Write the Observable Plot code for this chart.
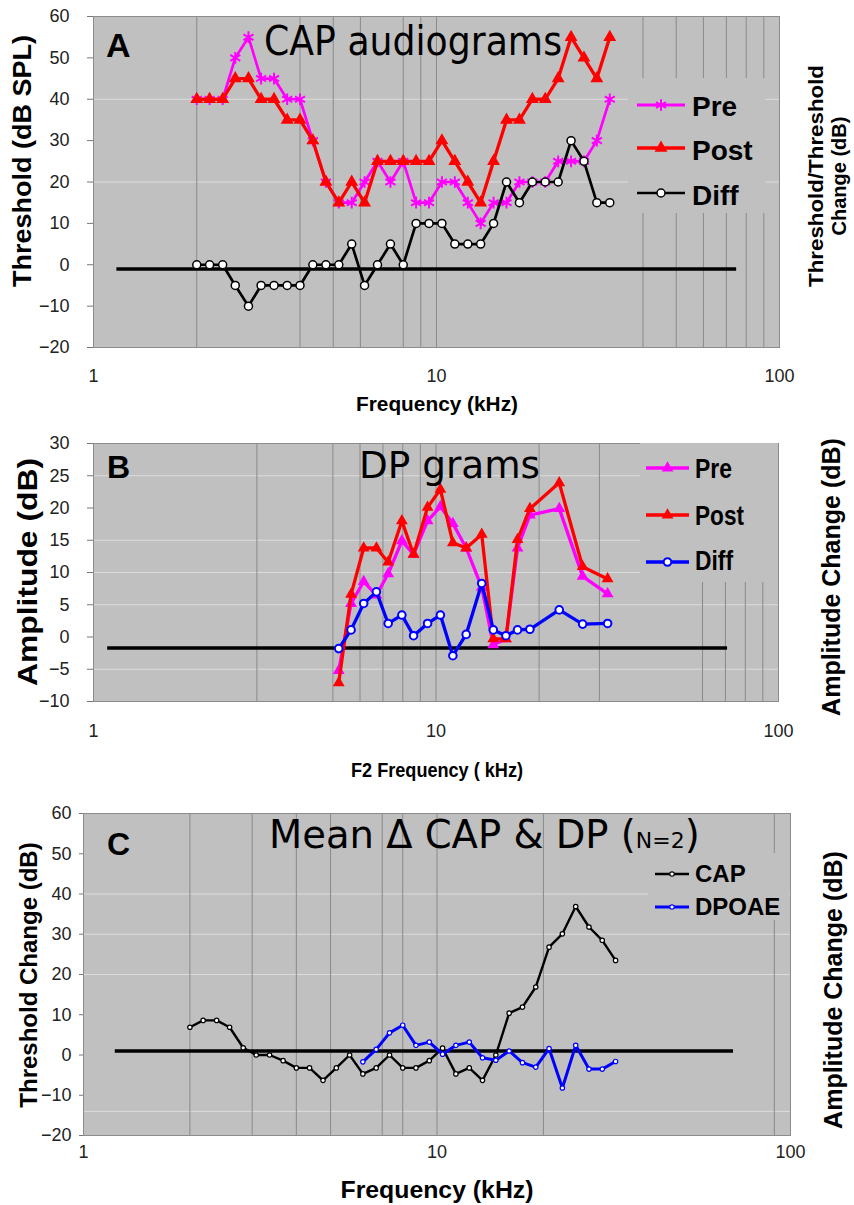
<!DOCTYPE html>
<html><head><meta charset="utf-8">
<script src="https://cdn.jsdelivr.net/npm/d3@7"></script>
<script src="https://cdn.jsdelivr.net/npm/@observablehq/plot@0.6"></script>
<style>
html,body{margin:0;padding:0;background:#fff;}
#root{position:relative;width:854px;height:1205px;overflow:hidden;background:#fff;}
#root > svg{position:absolute;left:0;}
</style></head><body><div id="root"></div>
<script>
// ---------- DATA ----------
// Panel A: CAP audiograms (1/8-octave frequencies, kHz)
const capFreq = [2, 2.18, 2.38, 2.59, 2.83, 3.08, 3.36, 3.67, 4, 4.36, 4.76, 5.19, 5.66, 6.17, 6.73, 7.34, 8, 8.72, 9.51, 10.37, 11.31, 12.34, 13.45, 14.67, 16, 17.45, 19.03, 20.75, 22.63, 24.68, 26.91, 29.34, 32];
const capPre  = [40, 40, 40, 50, 55, 45, 45, 40, 40, 30, 20, 15, 15, 20, 25, 20, 25, 15, 15, 20, 20, 15, 10, 15, 15, 20, 20, 20, 25, 25, 25, 30, 40];
const capPost = [40, 40, 40, 45, 45, 40, 40, 35, 35, 30, 20, 15, 20, 15, 25, 25, 25, 25, 25, 30, 25, 20, 15, 25, 35, 35, 40, 40, 45, 55, 50, 45, 55];
const capDiff = [0, 0, 0, -5, -10, -5, -5, -5, -5, 0, 0, 0, 5, -5, 0, 5, 0, 10, 10, 10, 5, 5, 5, 10, 20, 15, 20, 20, 20, 30, 25, 15, 15];

// Panel B: DP grams (F2 frequency, kHz)
const dpFreq = [5.2, 5.65, 6.15, 6.7, 7.25, 7.95, 8.6, 9.45, 10.3, 11.2, 12.25, 13.6, 14.7, 16, 17.3, 18.8, 22.9, 26.8, 31.7];
const dpPre  = [-5.2, 5.2, 8.6, 6.5, 9.8, 14.9, 12.8, 18, 20.2, 17.6, 13.8, 7.7, -1.2, -0.3, 13.8, 18.9, 19.9, 9.4, 6.7];
const dpPost = [-7.1, 6.6, 13.8, 13.8, 11.6, 18, 12.8, 20.1, 22.9, 14.6, 13.8, 15.9, -0.3, -0.3, 15.1, 19.9, 23.9, 10.9, 9];
const dpDiff = [-1.8, 1.1, 5.2, 7, 2.1, 3.4, 0.2, 2.1, 3.4, -2.9, 0.4, 8.3, 1.1, 0.2, 1.1, 1.2, 4.2, 2, 2.1];

// Panel C: mean change (N=2)
const meanCapFreq = capFreq;
const meanCap = [6.9, 8.6, 8.6, 6.9, 1.8, 0, 0, -1.4, -3.2, -3.2, -6.3, -3.2, 0, -4.7, -3.2, 0, -3.2, -3.2, -1.4, 1.7, -4.7, -3.2, -6.3, 0, 10.4, 11.9, 16.9, 26.8, 30.1, 36.9, 31.8, 28.5, 23.5];
const meanDpFreq = [6.17, 6.73, 7.34, 8, 8.72, 9.51, 10.37, 11.31, 12.34, 13.45, 14.67, 16, 17.45, 19.03, 20.75, 22.63, 24.68, 26.91, 29.34, 32];
const meanDp = [-1.7, 1.4, 5.5, 7.4, 2.4, 3.2, 0.2, 2.4, 3.2, -0.7, -1.3, 1, -1.9, -3, 1.6, -8.2, 2.4, -3.5, -3.5, -1.6];

// zero/reference lines: [from kHz, to kHz, level dB]
const baseA = [1.17, 75, -1];
const baseB = [1.1, 71, -1.7];
const baseC = [1.23, 69, 1];

// ticks and grid
const tickX = [1, 10, 100];
const tickYA = [-20, -10, 0, 10, 20, 30, 40, 50, 60];
const tickYB = [-10, -5, 0, 5, 10, 15, 20, 25, 30];
const tickYC = [-20, -10, 0, 10, 20, 30, 40, 50, 60];
const gridXA = [2, 4, 5, 6, 8, 9, 10, 40, 50, 60, 70, 80, 90];
const gridXB = [3, 5, 6, 7, 8, 9, 10, 20, 30, 60, 70, 80, 90];
const gridXC = [2, 3, 4, 5, 7, 8, 10, 20, 90];
const gridYA = [40, 20];
const gridYB = [25, 15, 10, 5, -5];
const gridYC = [40, 30, 20, -14];

// ---------- DRAW ----------
const FONT = "'Liberation Sans', Arial, Helvetica, sans-serif";
const root = document.getElementById("root");
const rows = (xs, ys) => xs.map((f, i) => ({f, v: ys[i]}));

function panel(o) {
  const marks = [
    Plot.frame({fill: "#c0c0c0", stroke: null}),
    Plot.ruleY(o.gridY, {stroke: "#dcdcdc", strokeWidth: 1}),
    Plot.ruleX(o.gridX, {stroke: "#8a8a8a", strokeWidth: 1}),
    Plot.frame({stroke: "#8c8c8c", strokeWidth: 1}),
    Plot.ruleY([{x1: o.base[0], x2: o.base[1], y: o.base[2]}], {x1: "x1", x2: "x2", y: "y", stroke: "#000", strokeWidth: 3.5}),
    ...o.series,
    Plot.axisY({ticks: o.yTicks, tickSize: o.tickSize, tickPadding: o.tickPad, fontSize: 18, label: null, stroke: "#777"}),
    Plot.axisX({ticks: tickX, tickSize: 0, tickPadding: o.xPad, tickFormat: d => String(d), fontSize: 18, label: null})
  ];
  const svg = Plot.plot({
    width: 854, height: o.height,
    marginTop: o.mt, marginBottom: o.mb, marginLeft: o.ml, marginRight: o.mr,
    x: {type: "log", domain: [1, 100]},
    y: {domain: o.yDomain},
    style: {fontFamily: FONT, fontSize: "18px", color: "#222", background: "transparent", overflow: "visible"},
    marks
  });
  svg.style.top = o.top + "px";
  root.appendChild(svg);
}

// Panel A
panel({
  top: 0, height: 420, mt: 16, mb: 73, ml: 93, mr: 75,
  yDomain: [-20, 60], yTicks: tickYA, gridX: gridXA, gridY: gridYA, base: baseA,
  tickSize: 6, tickPad: 18, xPad: 22,
  series: [
    Plot.line(rows(capFreq, capPre), {x: "f", y: "v", stroke: "#ff00ff", strokeWidth: 2.7}),
    Plot.dot(rows(capFreq, capPre), {x: "f", y: "v", symbol: "asterisk", stroke: "#ff00ff", strokeWidth: 2, r: 5.5}),
    Plot.line(rows(capFreq, capPost), {x: "f", y: "v", stroke: "#ff0000", strokeWidth: 3.3}),
    Plot.dot(rows(capFreq, capPost), {x: "f", y: "v", symbol: "triangle", fill: "#ff0000", r: 4.8}),
    Plot.line(rows(capFreq, capDiff), {x: "f", y: "v", stroke: "#000", strokeWidth: 2.7}),
    Plot.dot(rows(capFreq, capDiff), {x: "f", y: "v", fill: "#fff", stroke: "#000", strokeWidth: 1.5, r: 4})
  ]
});

// Panel B
panel({
  top: 420, height: 360, mt: 23, mb: 79, ml: 93, mr: 76,
  yDomain: [-10, 30], yTicks: tickYB, gridX: gridXB, gridY: gridYB, base: baseB,
  tickSize: 6, tickPad: 18, xPad: 23,
  series: [
    Plot.line(rows(dpFreq, dpPre), {x: "f", y: "v", stroke: "#ff00ff", strokeWidth: 3.3}),
    Plot.dot(rows(dpFreq, dpPre), {x: "f", y: "v", symbol: "triangle", fill: "#ff00ff", r: 4.4}),
    Plot.line(rows(dpFreq, dpPost), {x: "f", y: "v", stroke: "#ff0000", strokeWidth: 3.3}),
    Plot.dot(rows(dpFreq, dpPost), {x: "f", y: "v", symbol: "triangle", fill: "#ff0000", r: 4.4}),
    Plot.line(rows(dpFreq, dpDiff), {x: "f", y: "v", stroke: "#0000ff", strokeWidth: 3.3}),
    Plot.dot(rows(dpFreq, dpDiff), {x: "f", y: "v", fill: "#fff", stroke: "#0000ff", strokeWidth: 2, r: 3.8})
  ]
});

// Panel C
panel({
  top: 790, height: 415, mt: 23, mb: 70, ml: 83, mr: 64,
  yDomain: [-20, 60], yTicks: tickYC, gridX: gridXC, gridY: gridYC, base: baseC,
  tickSize: 4, tickPad: 8, xPad: 10,
  series: [
    Plot.line(rows(meanCapFreq, meanCap), {x: "f", y: "v", stroke: "#000", strokeWidth: 2.4}),
    Plot.dot(rows(meanCapFreq, meanCap), {x: "f", y: "v", fill: "#fff", stroke: "#000", strokeWidth: 1.2, r: 2.2}),
    Plot.line(rows(meanDpFreq, meanDp), {x: "f", y: "v", stroke: "#0000ff", strokeWidth: 3}),
    Plot.dot(rows(meanDpFreq, meanDp), {x: "f", y: "v", fill: "#fff", stroke: "#0000ff", strokeWidth: 1.2, r: 2.2})
  ]
});

// ---------- TEXT + LEGEND OVERLAY ----------
const ov = d3.select(root).append("svg")
  .attr("width", 854).attr("height", 1205)
  .style("top", "0px").style("pointer-events", "none");

function txt(s, x, y, o = {}) {
  const g = ov.append("g").attr("transform", `translate(${x},${y})` + (o.rot ? ` rotate(${o.rot})` : ""));
  const t = g.append("text")
    .attr("font-family", o.family || FONT)
    .attr("font-size", o.size || 18)
    .attr("font-weight", o.weight || "normal")
    .attr("text-anchor", o.anchor || "start")
    .attr("fill", o.fill || "#000")
    .text(s);
  if (o.len) t.attr("textLength", o.len).attr("lengthAdjust", "spacingAndGlyphs");
  return t;
}
const DV = "'DejaVu Sans', Verdana, sans-serif";

// panel letters & titles
txt("A", 106, 57, {size: 34, weight: "bold"});
txt("CAP audiograms", 264, 55, {size: 40, family: DV, len: 298});
txt("B", 107, 478, {size: 32, weight: "bold"});
txt("DP grams", 359, 478, {size: 38, family: DV, len: 181});
txt("C", 107, 855, {size: 32, weight: "bold"});
const tc = txt("", 269, 848, {size: 38.5, family: DV});
tc.append("tspan").text("Mean \u0394 CAP & DP (");
tc.append("tspan").attr("font-size", 22).text("N=2");
tc.append("tspan").text(")");

// axis titles
txt("Threshold (dB SPL)", 31, 161, {size: 25, weight: "bold", anchor: "middle", rot: -90, len: 252});
txt("Threshold/Threshold", 823, 176, {size: 20, weight: "bold", anchor: "middle", rot: -90, len: 222});
txt("Change (dB)", 846, 176, {size: 20, weight: "bold", anchor: "middle", rot: -90});
txt("Frequency (kHz)", 437, 411, {size: 20, weight: "bold", anchor: "middle", len: 162});

txt("Amplitude (dB)", 37, 572, {size: 27, weight: "bold", anchor: "middle", rot: -90, len: 228});
txt("Amplitude Change (dB)", 840, 577, {size: 25, weight: "bold", anchor: "middle", rot: -90});
txt("F2 Frequency ( kHz)", 437, 777, {size: 20, weight: "bold", anchor: "middle", len: 172});

txt("Threshold Change (dB)", 37, 975, {size: 24, weight: "bold", anchor: "middle", rot: -90});
txt("Amplitude Change (dB)", 842, 990, {size: 25, weight: "bold", anchor: "middle", rot: -90});
txt("Frequency (kHz)", 437, 1198, {size: 24, weight: "bold", anchor: "middle", len: 193});

// legends
function legend(box, lx, tx, items, font) {
  ov.append("rect").attr("x", box[0]).attr("y", box[1]).attr("width", box[2]).attr("height", box[3]).attr("fill", "#c0c0c0");
  for (const it of items) {
    ov.append("line").attr("x1", lx[0]).attr("x2", lx[1]).attr("y1", it.y).attr("y2", it.y)
      .attr("stroke", it.color).attr("stroke-width", it.sw);
    const cx = (lx[0] + lx[1]) / 2;
    const p = ov.append("path").attr("transform", `translate(${cx},${it.y})`)
      .attr("d", d3.symbol(it.symbol, Math.PI * it.r * it.r)());
    if (it.symbol === d3.symbolAsterisk) p.attr("fill", "none").attr("stroke", it.color).attr("stroke-width", 2);
    else if (it.hollow) p.attr("fill", "#fff").attr("stroke", it.color).attr("stroke-width", it.msw || 1.5);
    else p.attr("fill", it.color);
    const t = txt(it.label, tx, it.base, {size: font.size, weight: "bold", family: font.family});
    if (it.len) t.attr("textLength", it.len).attr("lengthAdjust", "spacingAndGlyphs");
  }
}
legend([628, 78, 137, 135], [637, 685], 692, [
  {label: "Pre", y: 105, base: 116, color: "#ff00ff", sw: 3, symbol: d3.symbolAsterisk, r: 5.5},
  {label: "Post", y: 148, base: 160, color: "#ff0000", sw: 3.3, symbol: d3.symbolTriangle, r: 4.8},
  {label: "Diff", y: 193, base: 205, color: "#000", sw: 2.7, symbol: d3.symbolCircle, r: 4, hollow: true}
], {size: 28});
legend([640, 443, 138, 139], [646, 689], 695, [
  {label: "Pre", y: 468, base: 478, color: "#ff00ff", sw: 3.3, symbol: d3.symbolTriangle, r: 4.4, len: 37},
  {label: "Post", y: 515, base: 525, color: "#ff0000", sw: 3.3, symbol: d3.symbolTriangle, r: 4.4, len: 49},
  {label: "Diff", y: 562, base: 570, color: "#0000ff", sw: 3.3, symbol: d3.symbolCircle, r: 3.8, hollow: true, msw: 2, len: 38}
], {size: 27});
legend([648, 853, 141, 67], [655, 689], 695, [
  {label: "CAP", y: 874, base: 882, color: "#000", sw: 2.4, symbol: d3.symbolCircle, r: 2.2, hollow: true, msw: 1.2},
  {label: "DPOAE", y: 907, base: 915, color: "#0000ff", sw: 3, symbol: d3.symbolCircle, r: 2.2, hollow: true, msw: 1.2}
], {size: 24});
</script>
</body></html>
